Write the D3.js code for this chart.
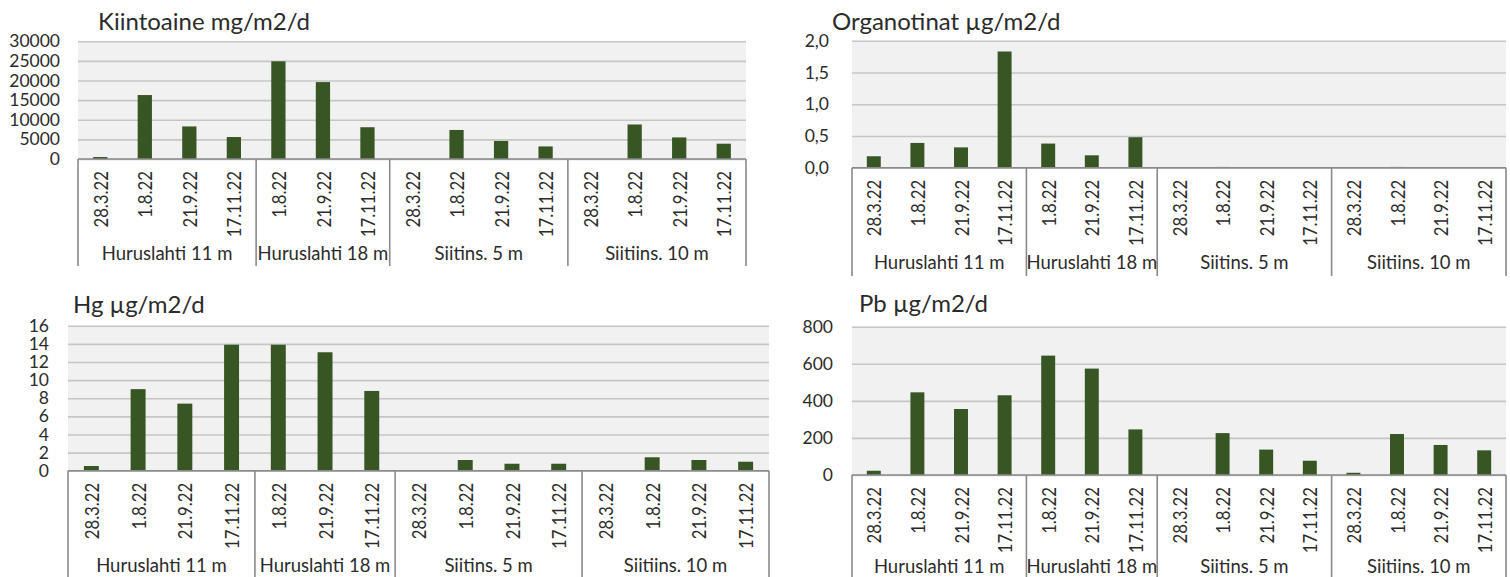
<!DOCTYPE html>
<html>
<head>
<meta charset="utf-8">
<script src="https://cdn.jsdelivr.net/npm/d3@7"></script>
<style>
  html, body { margin: 0; padding: 0; background: #ffffff; }
  svg { display: block; }
  text { font-family: Lato, "Open Sans", sans-serif; fill: #2b2b2b; }
</style>
</head>
<body>
<svg id="chart" width="1510" height="577"></svg>
<script>
// Sampling stations and their sampling dates
const groupNames = ["Huruslahti 11 m", "Huruslahti 18 m", "Siitins. 5 m", "Siitiins. 10 m"];
const groupDates = [
  ["28.3.22", "1.8.22", "21.9.22", "17.11.22"],
  ["1.8.22", "21.9.22", "17.11.22"],
  ["28.3.22", "1.8.22", "21.9.22", "17.11.22"],
  ["28.3.22", "1.8.22", "21.9.22", "17.11.22"]
];

// Deposition per sample, in the order of the dates above
const kiintoaine  = [500, 16300, 8300, 5600, 24900, 19600, 8100, 0, 7400, 4600, 3200, 0, 8800, 5500, 3900];
const organotinat = [0.18, 0.39, 0.32, 1.83, 0.38, 0.195, 0.48, 0, 0.012, 0, 0, 0, 0.012, 0, 0];
const hg          = [0.52, 9.0, 7.4, 13.9, 13.9, 13.07, 8.8, 0, 1.18, 0.77, 0.77, 0, 1.48, 1.18, 0.99];
const pb          = [23, 446, 356, 430, 644, 574, 246, 0, 226, 137, 77, 12, 221, 162, 133];

// Value axis ticks
const kiintoaineTicks  = [0, 5000, 10000, 15000, 20000, 25000, 30000];
const organotinatTicks = [0, 0.5, 1.0, 1.5, 2.0];
const hgTicks          = [0, 2, 4, 6, 8, 10, 12, 14, 16];
const pbTicks          = [0, 200, 400, 600, 800];

const titles = ["Kiintoaine mg/m2/d", "Organotinat µg/m2/d", "Hg µg/m2/d", "Pb µg/m2/d"];

const BAR = "#375623";
const svg = d3.select("#chart");
const H = 577;

// flat list of category slots
const slots = [];
groupDates.forEach((ds, gi) => ds.forEach(d => slots.push({ group: gi, date: d })));

const commaFmt = v => d3.format(".1f")(v).replace(".", ",");
const intFmt = d3.format("d");

const panels = [
  { title: titles[0], values: kiintoaine, ticks: kiintoaineTicks, fmt: intFmt,
    left: 78, right: 746, top: 41.3, zero: 159, pad: 18, titleX: 98, titleY: 30, sepBottom: 266 },
  { title: titles[1], values: organotinat, ticks: organotinatTicks, fmt: commaFmt,
    left: 852, right: 1506, top: 40.7, zero: 167.7, pad: 23, titleX: 832, titleY: 30, sepBottom: 276 },
  { title: titles[2], values: hg, ticks: hgTicks, fmt: intFmt,
    left: 68, right: 769, top: 325.7, zero: 470.7, pad: 19, titleX: 73, titleY: 313, sepBottom: H },
  { title: titles[3], values: pb, ticks: pbTicks, fmt: intFmt,
    left: 852, right: 1506, top: 326.7, zero: 475, pad: 19, titleX: 859, titleY: 312, sepBottom: H }
];

panels.forEach(drawPanel);

function drawPanel(p) {
  const g = svg.append("g");
  const x = d3.scaleBand()
    .domain(d3.range(slots.length))
    .range([p.left, p.right])
    .paddingInner(0.68)
    .paddingOuter(0.34);
  const y = d3.scaleLinear()
    .domain([0, d3.max(p.ticks)])
    .range([p.zero, p.top]);
  const step = x.step();
  const center = i => x(i) + x.bandwidth() / 2;

  // plot area background
  g.append("rect")
    .attr("x", p.left).attr("y", p.top)
    .attr("width", p.right - p.left).attr("height", p.zero - p.top)
    .attr("fill", "#f1f1f1");

  // gridlines and value labels
  const yAxis = d3.axisLeft(y)
    .tickValues(p.ticks)
    .tickSize(-(p.right - p.left))
    .tickPadding(p.pad)
    .tickFormat(p.fmt);
  const ax = g.append("g")
    .attr("transform", `translate(${p.left},0)`)
    .call(yAxis);
  ax.select(".domain").remove();
  ax.selectAll(".tick line").attr("stroke", "#c6c6c6").attr("stroke-width", 1.6);
  ax.selectAll(".tick text")
    .attr("font-size", 17.5)
    .attr("font-family", "Lato, sans-serif")
    .attr("fill", "#2b2b2b");

  // bars
  g.append("g").selectAll("rect")
    .data(p.values)
    .join("rect")
    .attr("x", (d, i) => x(i))
    .attr("width", x.bandwidth())
    .attr("y", d => y(d))
    .attr("height", d => y(0) - y(d))
    .attr("fill", BAR);

  // category axis line
  g.append("line")
    .attr("x1", p.left).attr("x2", p.right)
    .attr("y1", p.zero).attr("y2", p.zero)
    .attr("stroke", "#8a8a8a").attr("stroke-width", 1.6);

  // group separators
  const bounds = [0];
  let acc = 0;
  groupDates.forEach(ds => { acc += ds.length; bounds.push(acc); });
  const boundX = k => k < slots.length ? x(k) - step * x.paddingOuter() : x(k - 1) + x.bandwidth() + step * x.paddingOuter();
  g.append("g").selectAll("line")
    .data(bounds)
    .join("line")
    .attr("x1", boundX).attr("x2", boundX)
    .attr("y1", p.zero).attr("y2", p.sepBottom)
    .attr("stroke", "#8a8a8a").attr("stroke-width", 1.6);

  // rotated date labels
  g.append("g").selectAll("text")
    .data(slots)
    .join("text")
    .attr("transform", (d, i) => `translate(${center(i)},${p.zero + 12}) rotate(-90) scale(0.84,1)`)
    .attr("text-anchor", "end")
    .attr("dominant-baseline", "central")
    .attr("font-size", 20)
    .text(d => d.date);

  // station labels
  g.append("g").selectAll("text")
    .data(groupNames)
    .join("text")
    .attr("x", (d, gi) => (boundX(bounds[gi]) + boundX(bounds[gi + 1])) / 2)
    .attr("y", Math.min(p.zero + 101, H - 4.5))
    .attr("text-anchor", "middle")
    .attr("font-size", 18.5)
    .text(d => d);

  // chart title
  g.append("text")
    .attr("x", p.titleX).attr("y", p.titleY)
    .attr("font-size", 24)
    .text(p.title);
}
</script>
</body>
</html>
